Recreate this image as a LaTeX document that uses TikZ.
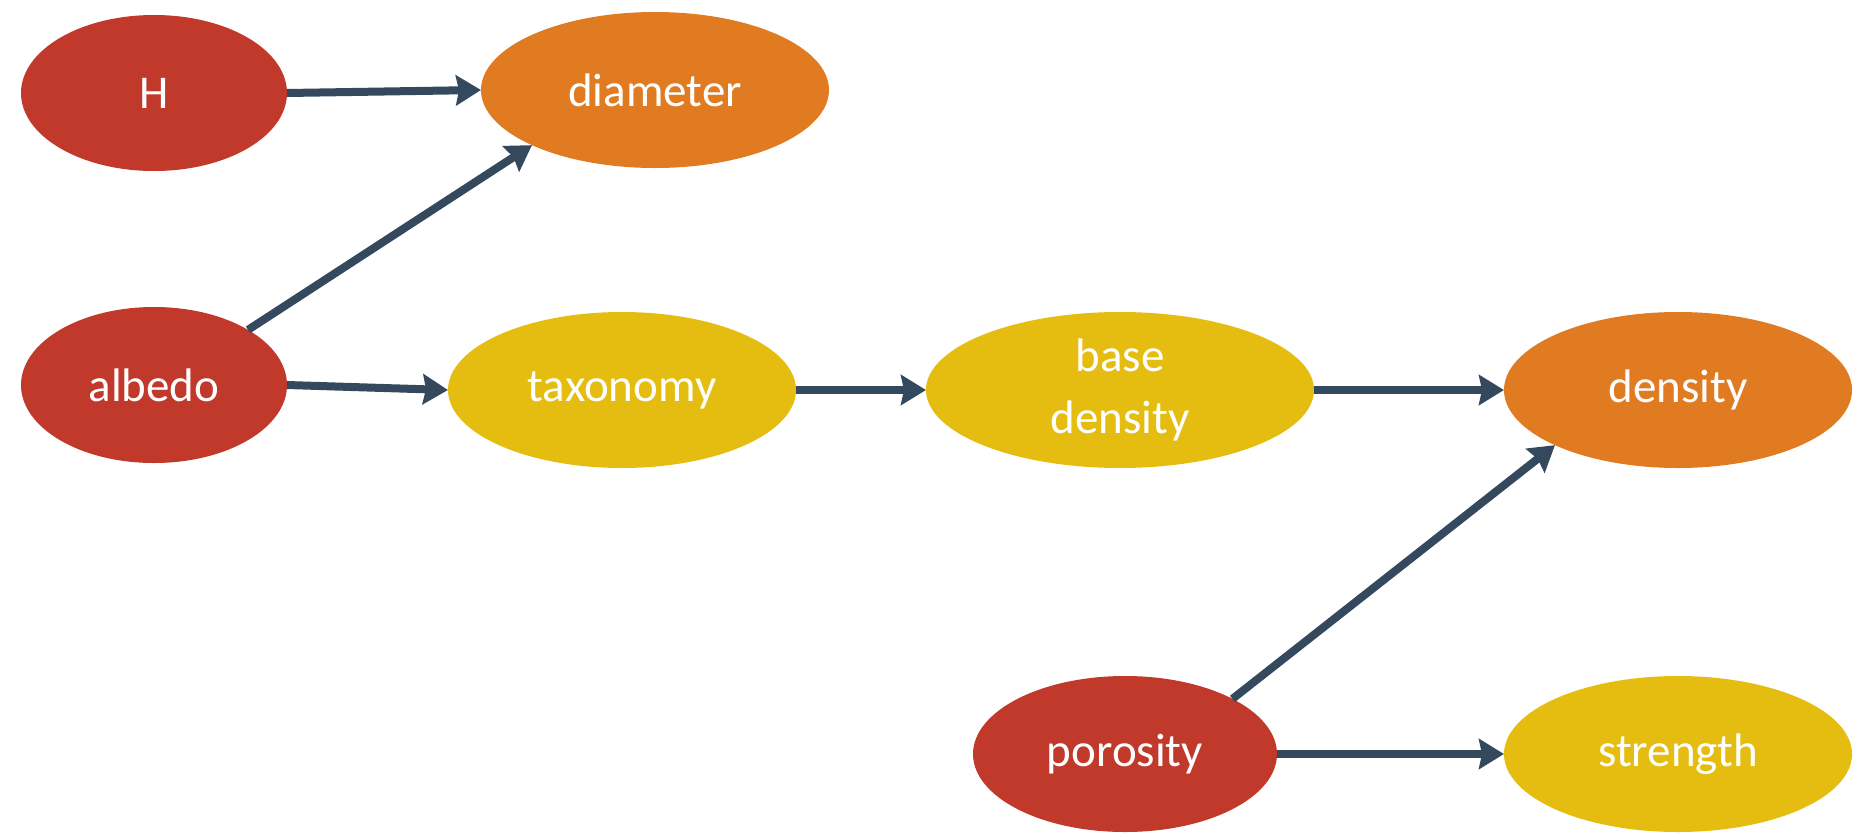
\documentclass[tikz,border=0pt]{standalone}
\usepackage{fontspec}
\setmainfont{Carlito}
\usetikzlibrary{shapes.geometric,arrows.meta}
\definecolor{cred}{HTML}{C0392B}
\definecolor{corange}{HTML}{E07B21}
\definecolor{cyellow}{HTML}{E5BD11}
\definecolor{carrow}{HTML}{34495E}
\tikzset{
  x=1pt,y=1pt,
  blob/.style={ellipse, inner sep=0pt, outer sep=0pt, text=white, align=center,
    font=\fontsize{47}{62}\selectfont},
  redblob/.style={blob, fill=cred},
  orangeblob/.style={blob, fill=corange},
  yellowblob/.style={blob, fill=cyellow},
  link/.style={draw=carrow, line width=8pt, -{Stealth[inset=3pt,length=25pt,width=30pt]}},
}
\begin{document}
\begin{tikzpicture}
\useasboundingbox (0,0) rectangle (1858,-836);
\node[redblob, minimum width=266, minimum height=156] (H) at (154,-93) {H};
\node[orangeblob, minimum width=348, minimum height=156] (diam) at (655,-90) {diameter};
\node[redblob, minimum width=266, minimum height=156] (alb) at (154,-385) {albedo};
\node[yellowblob, minimum width=348, minimum height=156] (tax) at (622,-390) {taxonomy};
\node[yellowblob, minimum width=388, minimum height=156] (base) at (1120,-390) {base\\density};
\node[orangeblob, minimum width=348, minimum height=156] (dens) at (1678,-390) {density};
\node[redblob, minimum width=304, minimum height=156] (por) at (1125,-754) {porosity};
\node[yellowblob, minimum width=348, minimum height=156] (str) at (1678,-754) {strength};
\draw[link] (H.east) -- (diam.west);
\draw[link] (alb.north east) -- (diam.south west);
\draw[link] (alb.east) -- (tax.west);
\draw[link] (tax.east) -- (base.west);
\draw[link] (base.east) -- (dens.west);
\draw[link] (por.north east) -- (dens.south west);
\draw[link] (por.east) -- (str.west);
\end{tikzpicture}
\end{document}
